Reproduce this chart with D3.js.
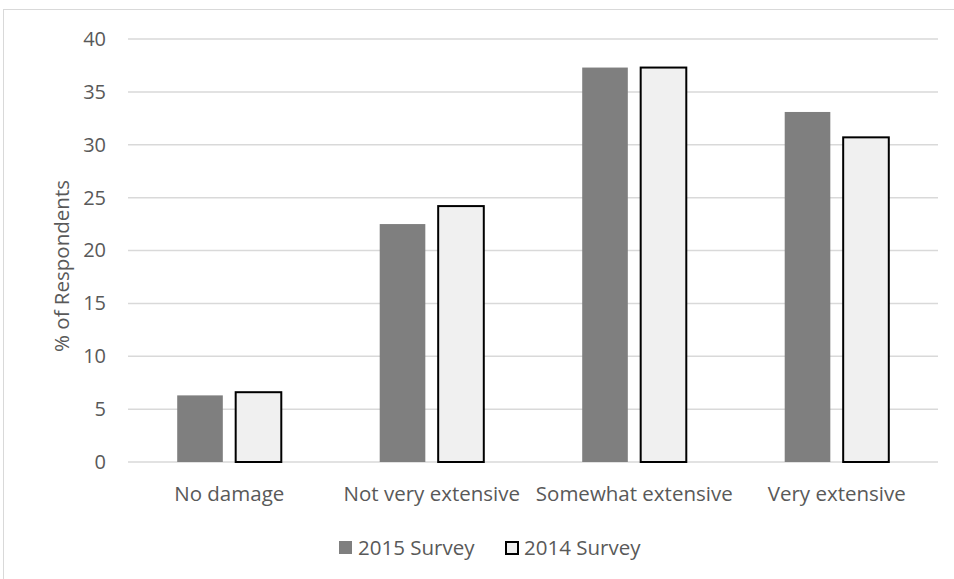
<!DOCTYPE html>
<html><head><meta charset="utf-8">
<script src="https://cdn.jsdelivr.net/npm/d3@7"></script>
<style>body{margin:0;background:#fff}svg{display:block}text{font-family:"Open Sans","Liberation Sans",sans-serif;fill:#595959}</style>
</head><body><svg id="c" width="954" height="579"></svg>
<script>
const categories = ["No damage","Not very extensive","Somewhat extensive","Very extensive"];
const seriesNames = ["2015 Survey","2014 Survey"];
const values2015 = [6.3, 22.5, 37.3, 33.1];
const values2014 = [6.6, 24.2, 37.3, 30.7];
const yTicks = [0,5,10,15,20,25,30,35,40];

const svg = d3.select("#c");
const W=954,H=579;
const m={l:128,r:16,t:39,b:117};
const pw=W-m.l-m.r, ph=H-m.t-m.b;
const FF='"Open Sans","Liberation Sans",sans-serif';

svg.append("rect").attr("x",3.5).attr("y",9.5).attr("width",W+10).attr("height",H+10)
  .attr("fill","none").attr("stroke","#d9d9d9").attr("stroke-width",1);

const x0=d3.scaleBand().domain(categories).range([m.l,m.l+pw]).paddingInner(0.486).paddingOuter(0.243);
const x1=d3.scaleBand().domain(seriesNames).range([0,x0.bandwidth()]).paddingInner(0.22);
const y=d3.scaleLinear().domain([0,40]).range([m.t+ph,m.t]);

svg.append("g").selectAll("line").data(yTicks).join("line")
  .attr("x1",m.l).attr("x2",m.l+pw).attr("y1",d=>y(d)).attr("y2",d=>y(d))
  .attr("stroke","#d9d9d9").attr("stroke-width",1.5);

const yAxis=d3.axisLeft(y).tickValues(yTicks).tickSize(0).tickPadding(0);
const ya=svg.append("g").attr("transform",`translate(106,0)`).call(yAxis);
ya.select(".domain").remove();
ya.selectAll("text").attr("font-size",20).style("font-family",FF).attr("fill","#595959");

const data=categories.map((c,i)=>({c,vals:[{s:seriesNames[0],v:values2015[i]},{s:seriesNames[1],v:values2014[i]}]}));
const styles={"2015 Survey":{fill:"#7f7f7f",stroke:"none",sw:0},"2014 Survey":{fill:"#f0f0f0",stroke:"#000",sw:2}};
const grp=svg.selectAll("g.cat").data(data).join("g").attr("class","cat").attr("transform",d=>`translate(${x0(d.c)},0)`);
grp.selectAll("rect").data(d=>d.vals).join("rect")
  .attr("x",d=>x1(d.s)).attr("width",x1.bandwidth())
  .attr("y",d=>y(d.v)).attr("height",d=>y(0)-y(d.v))
  .attr("fill",d=>styles[d.s].fill).attr("stroke",d=>styles[d.s].stroke).attr("stroke-width",d=>styles[d.s].sw);

const xAxis=d3.axisBottom(x0).tickSize(0).tickPadding(0);
const xa=svg.append("g").attr("transform",`translate(0,494)`).call(xAxis);
xa.select(".domain").remove();
xa.selectAll("text").attr("font-size",20.5).style("font-family",FF).attr("fill","#595959").attr("dy","0.35em");

svg.append("text").attr("transform",`translate(62,266) rotate(-90)`)
  .attr("text-anchor","middle").attr("dy","0.35em").attr("font-size",20.5).text("% of Respondents");

const legX=[339,505];
const lg=svg.selectAll("g.leg").data(seriesNames).join("g").attr("class","leg")
  .attr("transform",(d,i)=>`translate(${legX[i]},541)`);
lg.append("rect")
  .attr("x",d=>styles[d].sw?1:0).attr("y",d=>styles[d].sw?1:0)
  .attr("width",d=>styles[d].sw?12:13).attr("height",d=>styles[d].sw?12:13)
  .attr("fill",d=>styles[d].fill).attr("stroke",d=>styles[d].stroke).attr("stroke-width",d=>styles[d].sw);
lg.append("text").attr("x",19).attr("y",7).attr("dy","0.35em").attr("font-size",20.5).text(d=>d);
</script></body></html>
